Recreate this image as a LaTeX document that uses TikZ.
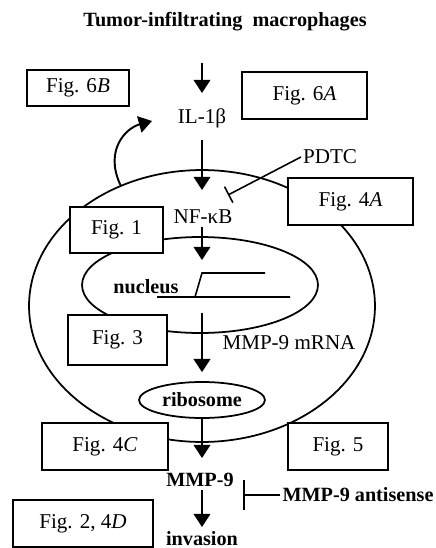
\documentclass[tikz,border=0pt]{standalone}
\usepackage{fontspec}
\setmainfont{Liberation Serif}
\usetikzlibrary{arrows.meta,shapes.geometric}
\begin{document}
\begin{tikzpicture}[x=0.02cm,y=-0.02cm,
  fig/.style={draw,line width=1.1pt,fill=white,inner sep=0pt,font=\fontsize{12}{14}\selectfont},
  lbl/.style={inner sep=1pt,font=\fontsize{12}{14}\selectfont},
  blbl/.style={inner sep=1pt,font=\fontsize{11.5}{14}\selectfont\bfseries},
  arr/.style={line width=1.1pt,-{Triangle[length=7.5pt,width=9.5pt]}},
  inhib/.style={line width=0.9pt,-{Bar[width=#1]}}]
\useasboundingbox (0,0) rectangle (436,548);
% cell and nucleus
\node[draw,ellipse,line width=1pt,minimum width=6.92cm,minimum height=5.44cm,inner sep=0pt] (cell) at (202,306) {};
\node[draw,ellipse,line width=1pt,minimum width=4.72cm,minimum height=1.92cm,inner sep=0pt] (nucleus) at (200,285) {};
\coordinate (promoter) at (202,273);
\coordinate (gene) at (202,297);
\draw[line width=0.9pt] (157,297) -- (290,297) (195,297) -- (promoter) -- (265,273);
\node[blbl] (nuc) at (146,287) {nucleus};
% figure boxes
\node[fig,minimum width=2.04cm,minimum height=0.72cm] (f6B) at (78,88) {Fig. 6\textit{B}};
\node[fig,minimum width=2.5cm,minimum height=0.94cm] (f6A) at (304.5,95.5) {Fig. 6\textit{A}};
\node[fig,minimum width=2.5cm,minimum height=0.94cm] (f4A) at (350.5,201.5) {Fig. 4\textit{A}};
\node[fig,minimum width=1.86cm,minimum height=0.92cm] (f1) at (116.5,230) {Fig. 1};
\node[fig,minimum width=1.98cm,minimum height=1.0cm] (f3) at (117.5,340) {Fig. 3};
\node[fig,minimum width=2.52cm,minimum height=0.94cm] (f4C) at (105,446.5) {Fig. 4\textit{C}};
\node[fig,minimum width=2.0cm,minimum height=0.94cm] (f5) at (338,446.5) {Fig. 5};
\node[fig,minimum width=2.8cm,minimum height=0.94cm] (f24D) at (83,523.5) {Fig. 2, 4\textit{D}};
% pathway
\node[blbl] (title) at (225,22) {Tumor-infiltrating~~macrophages};
\node[lbl] (il1b) at (202,118) {IL-1β};
\node[lbl] (nfkb) at (203,217) {NF-κB};
\node[lbl] (mrna) at (289,343) {MMP-9 mRNA};
\node[draw,ellipse,line width=1pt,inner sep=0pt,minimum width=2.52cm,minimum height=0.72cm,font=\fontsize{11.5}{14}\selectfont\bfseries] (ribo) at (202,400) {ribosome};
\node[blbl] (mmp9) at (200,480) {MMP-9};
\node[blbl] (inv) at (202,539) {invasion};
\node[lbl] (pdtc) at (330,157) {PDTC};
\node[blbl] (anti) at (358,495) {MMP-9 antisense};
\coordinate (feedback) at (152,121);
\coordinate (pdtcend) at (228,195);
\coordinate (antiend) at (243,495);
\draw[arr,shorten <=0.82cm,shorten >=0.5cm] (title.center -| il1b.center) -- (il1b.center);
\draw[arr,shorten <=0.44cm,shorten >=0.54cm] (il1b.center) -- (il1b.center |- nfkb.center);
\draw[arr,shorten <=0.2cm,shorten >=0.26cm] (nfkb.center -| promoter) -- (promoter);
\draw[arr,shorten <=0.32cm,shorten >=0.18cm] (gene) -- (ribo.north);
\draw[arr,shorten >=0.44cm] (ribo.south) -- (ribo.south |- mmp9.center);
\draw[arr,shorten <=0.2cm,shorten >=0.24cm] (mmp9.center -| inv.center) -- (inv.center);
\draw[arr] (cell.124) .. controls (104,150) and (126,128) .. (feedback);
\draw[inhib=0.36cm] (pdtc.west) -- (pdtcend);
\draw[inhib=0.6cm] (anti.west) -- (antiend);
\end{tikzpicture}
\end{document}
